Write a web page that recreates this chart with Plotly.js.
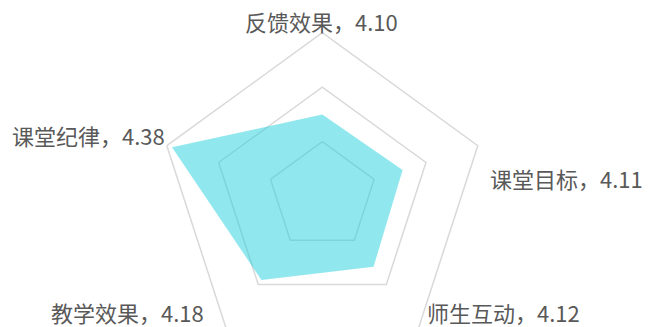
<!DOCTYPE html>
<html>
<head>
<meta charset="utf-8">
<script src="https://cdn.plot.ly/plotly-3.0.1.min.js"></script>
<style>
html, body { margin:0; padding:0; overflow:hidden; background:#fff; }
#chart { width:648px; height:400px; }
</style>
</head>
<body>
<div id="chart"></div>
<script>
const categories = ["反馈效果", "课堂目标", "师生互动", "教学效果", "课堂纪律"];
const values = [4.10, 4.11, 4.12, 4.18, 4.38];
const radialRange = [3.8, 4.4];
const gridValues = [4.0, 4.2];

const W = 648, H = 400;
const cx = 322.3, cy = 196.2, R = 163.5;

// label positions (pixel centers) for each category's data label
const labelPos = [
  [321.5, 21],
  [566, 178],
  [503, 312],
  [127, 312],
  [88.5, 135]
];

const trace = {
  type: "scatterpolar",
  r: values.concat([values[0]]),
  theta: categories.concat([categories[0]]),
  mode: "lines",
  fill: "toself",
  fillcolor: "rgba(34,209,221,0.5)",
  line: { width: 0, color: "rgba(0,0,0,0)" },
  hoverinfo: "skip",
  showlegend: false
};

const annotations = categories.map((c, i) => ({
  xref: "paper", yref: "paper",
  x: labelPos[i][0] / W,
  y: 1 - labelPos[i][1] / H,
  xanchor: "center", yanchor: "middle",
  text: c + "，" + values[i].toFixed(2),
  showarrow: false,
  borderpad: 0,
  font: { family: "Noto Sans CJK SC", size: 22, color: "#595959" }
}));

const layout = {
  width: W, height: H,
  margin: { l: 0, r: 0, t: 0, b: 0 },
  paper_bgcolor: "#ffffff",
  showlegend: false,
  polar: {
    domain: {
      x: [(cx - R) / W, (cx + R) / W],
      y: [1 - (cy + R) / H, 1 - (cy - R) / H]
    },
    bgcolor: "rgba(0,0,0,0)",
    gridshape: "linear",
    radialaxis: {
      range: radialRange,
      tickvals: gridValues,
      showticklabels: false,
      ticks: "",
      showline: false,
      showgrid: true,
      gridcolor: "#D9D9D9",
      gridwidth: 1.5,
      angle: 90
    },
    angularaxis: {
      type: "category",
      direction: "clockwise",
      rotation: 90,
      showgrid: false,
      showline: true,
      linecolor: "#D9D9D9",
      linewidth: 1.5,
      showticklabels: false,
      ticks: ""
    }
  },
  annotations: annotations
};

Plotly.newPlot("chart", [trace], layout, { displayModeBar: false, staticPlot: true });
</script>
</body>
</html>
